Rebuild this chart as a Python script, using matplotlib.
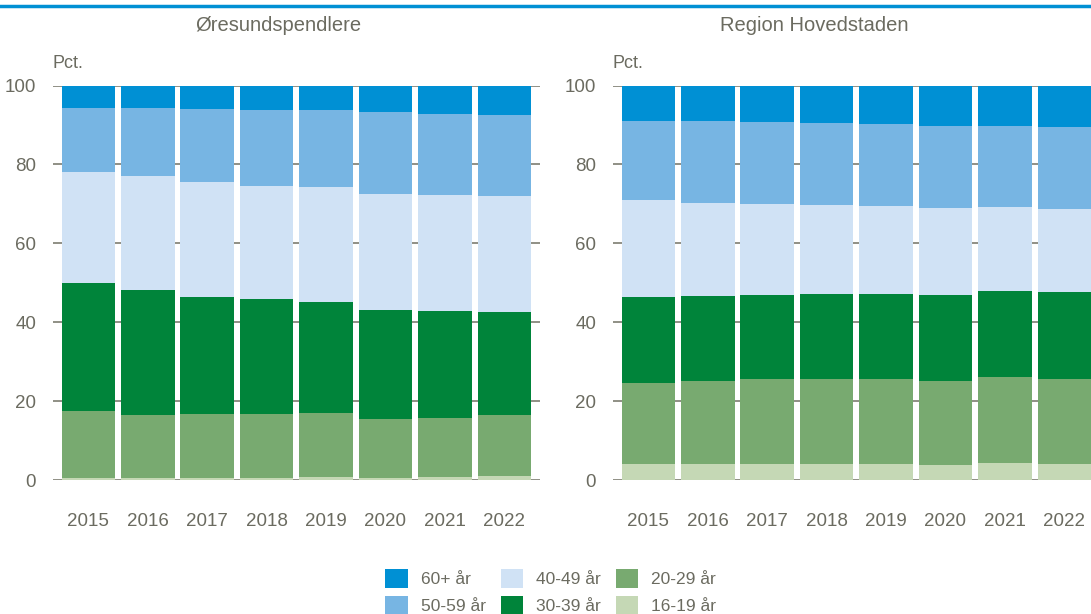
import matplotlib.pyplot as plt
import numpy as np
from matplotlib.patches import Patch

plt.rcParams["font.family"] = ["Liberation Sans", "DejaVu Sans"]

years = ["2015", "2016", "2017", "2018", "2019", "2020", "2021", "2022"]
groups = ["60+ år", "50-59 år", "40-49 år", "30-39 år", "20-29 år", "16-19 år"]
colors = ["#0090d4", "#77b5e3", "#d0e2f5", "#00843a", "#78aa70", "#c5d8b5"]

# Øresundspendlere, shares in pct (bottom to top: 16-19, 20-29, 30-39, 40-49, 50-59, 60+)
ore_16_19 = [0.5, 0.5, 0.6, 0.6, 0.8, 0.5, 0.7, 1.0]
ore_20_29 = [17.1, 16.1, 16.1, 16.1, 16.1, 15.0, 15.0, 15.4]
ore_30_39 = [32.4, 31.6, 29.8, 29.1, 28.2, 27.5, 27.1, 26.1]
ore_40_49 = [28.0, 28.9, 29.0, 28.8, 29.2, 29.5, 29.5, 29.4]
ore_50_59 = [16.4, 17.3, 18.5, 19.2, 19.4, 20.8, 20.5, 20.7]
ore_60 = [5.6, 5.6, 6.0, 6.2, 6.3, 6.7, 7.2, 7.4]

# Region Hovedstaden
hov_16_19 = [4.1, 4.1, 4.1, 4.1, 4.1, 3.9, 4.4, 4.1]
hov_20_29 = [20.5, 20.9, 21.4, 21.6, 21.4, 21.2, 21.6, 21.4]
hov_30_39 = [21.9, 21.7, 21.5, 21.5, 21.6, 21.8, 21.8, 22.2]
hov_40_49 = [24.4, 23.6, 22.9, 22.5, 22.3, 22.0, 21.3, 21.1]
hov_50_59 = [20.2, 20.6, 20.9, 20.8, 20.8, 20.9, 20.6, 20.6]
hov_60 = [8.9, 9.1, 9.2, 9.5, 9.8, 10.2, 10.3, 10.6]

panels = [
    ("Øresundspendlere", [ore_60, ore_50_59, ore_40_49, ore_30_39, ore_20_29, ore_16_19]),
    ("Region Hovedstaden", [hov_60, hov_50_59, hov_40_49, hov_30_39, hov_20_29, hov_16_19]),
]

text_col = "#6b6b60"
grid_col = "#8f8f85"

fig = plt.figure(figsize=(10.91, 6.14), dpi=100)
ax_pos = [[0.0483, 0.2182, 0.4466, 0.6425], [0.5616, 0.2182, 0.4466, 0.6425]]
title_x = [0.255, 0.746]

x = np.arange(len(years))
for (title, series), pos, tx in zip(panels, ax_pos, title_x):
    ax = fig.add_axes(pos)
    bottom = np.zeros(len(years))
    # draw from youngest (bottom) to oldest (top)
    for vals, col in zip(series[::-1], colors[::-1]):
        ax.bar(x, vals, bottom=bottom, width=0.9, color=col, edgecolor="none", zorder=2)
        bottom += np.array(vals)
    ax.set_xlim(-0.6, 7.6)
    ax.set_ylim(0, 100)
    ax.set_yticks(range(0, 101, 20))
    ax.set_xticks(x)
    ax.set_xticklabels(years)
    ax.grid(axis="y", color=grid_col, linewidth=1.4, zorder=0)
    ax.set_axisbelow(True)
    for s in ax.spines.values():
        s.set_visible(False)
    ax.tick_params(length=0, labelsize=13.5, labelcolor=text_col)
    ax.tick_params(axis="x", pad=24)
    ax.tick_params(axis="y", pad=12)
    ax.text(0.0, 1.035, "Pct.", transform=ax.transAxes, fontsize=13, color=text_col,
            ha="left", va="bottom")
    fig.text(tx, 0.959, title, fontsize=14.5, color=text_col, ha="center", va="center")

# blue line at top
fig.add_artist(plt.Line2D([0, 1], [0.991, 0.991], color="#0090d4", linewidth=2.5))

handles = [Patch(facecolor=c, edgecolor="none") for c in colors]
fig.legend(handles, groups, loc="center", bbox_to_anchor=(0.505, 0.036), ncol=3,
           frameon=False, fontsize=12.5, labelcolor=text_col, handlelength=1.3,
           handleheight=1.3, columnspacing=0.85, handletextpad=0.75, labelspacing=0.45,
           borderpad=0)

fig.savefig("out.png", dpi=100)
